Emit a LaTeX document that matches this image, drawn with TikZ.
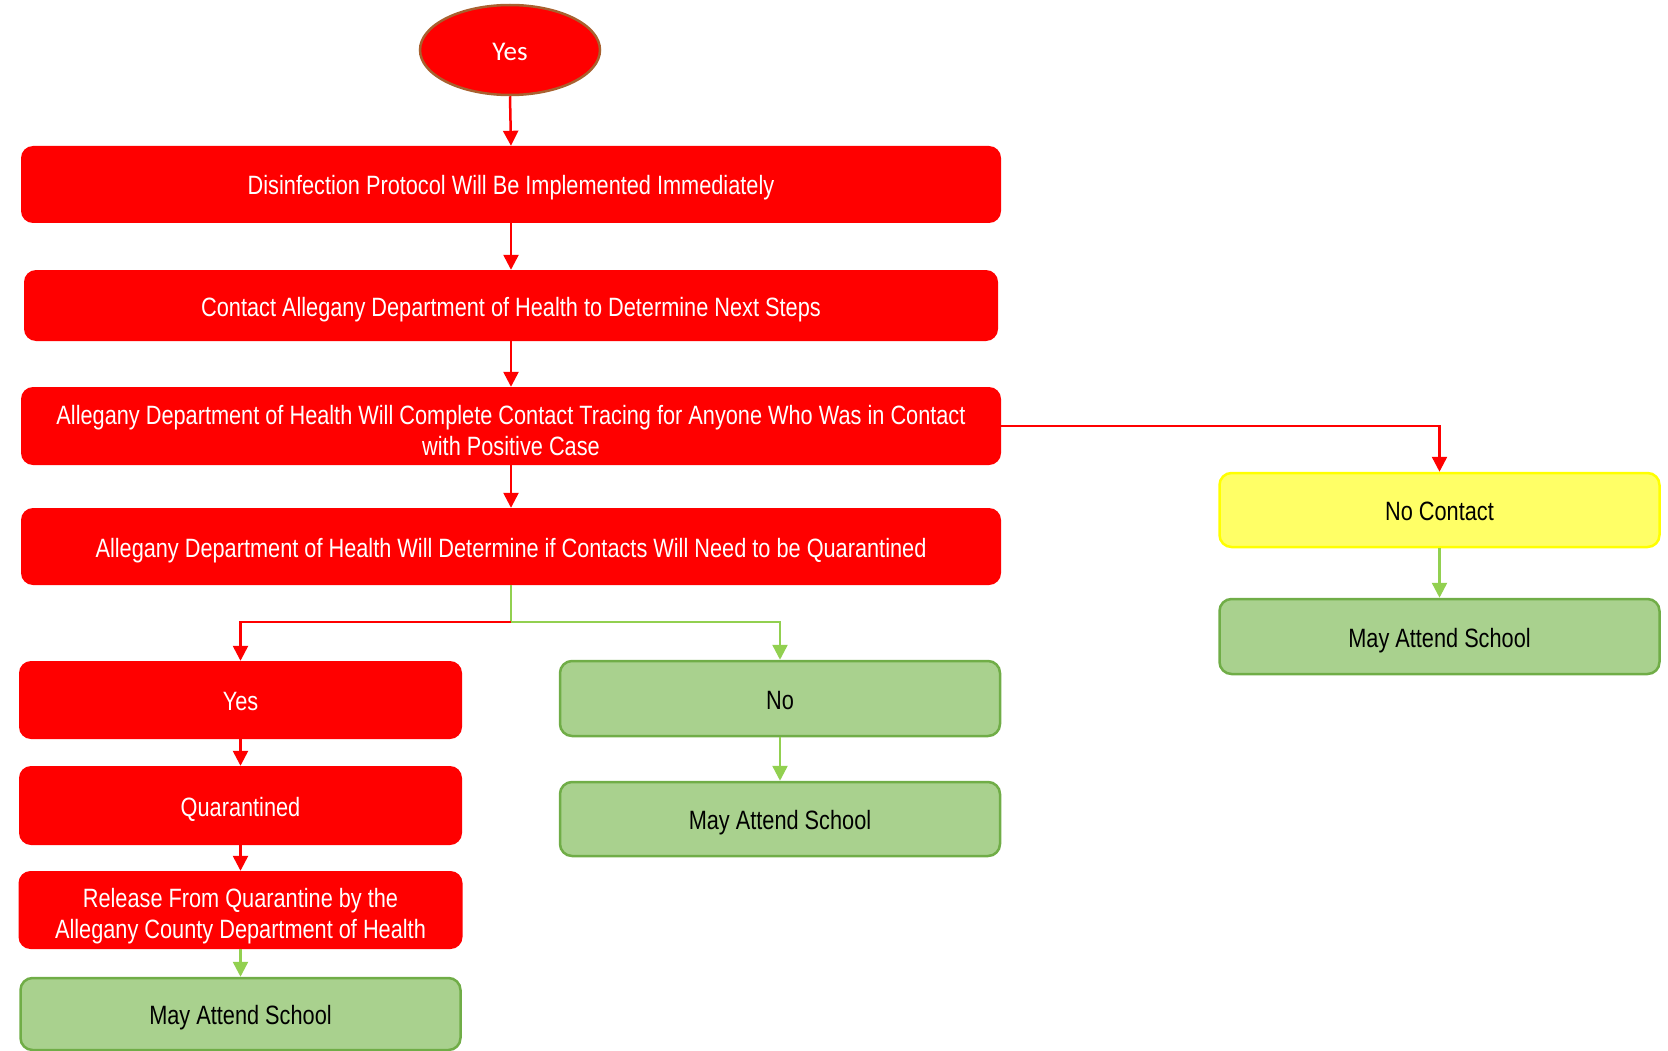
\documentclass[tikz,border=0pt]{standalone}
\usepackage{fontspec}
\setmainfont[FakeStretch=0.82]{Liberation Sans}
\newfontfamily\calib{Carlito}
\usetikzlibrary{arrows.meta,shapes.geometric,positioning}
\definecolor{rd}{HTML}{FF0000}
\definecolor{gfill}{HTML}{A9D18E}
\definecolor{gborder}{HTML}{70AD47}
\definecolor{garrow}{HTML}{92D050}
\definecolor{yfill}{HTML}{FFFF66}
\definecolor{yborder}{HTML}{FFFF00}
\definecolor{brown}{HTML}{A8612F}
\newcommand\mystrut{\rule[-0.2em]{0pt}{1.2em}}
\tikzset{
  boxbase/.style={rectangle, rounded corners=12pt, align=center,
    font=\fontsize{26.5}{31}\selectfont, inner sep=0pt, execute at begin node=\mystrut},
  redbox/.style={boxbase, fill=rd, text=white},
  greenbox/.style={boxbase, fill=gfill, draw=gborder, line width=2.5pt, text=black},
  yellowbox/.style={boxbase, fill=yfill, draw=yborder, line width=2.5pt, text=black},
  redarrow/.style={draw=rd, line width=2.5pt, -{Triangle[width=15pt,length=15pt]}},
  greenarrow/.style={draw=garrow, line width=2.5pt, -{Triangle[width=15pt,length=15pt]}},
  greenline/.style={draw=garrow, line width=2.5pt},
}
\begin{document}
\begin{tikzpicture}[x=1pt,y=-1pt]
\useasboundingbox (0,0) rectangle (1668,1051);
\node[ellipse, fill=rd, draw=brown, line width=2.5pt, minimum width=180pt, minimum height=90pt,
  text=white, font=\calib\fontsize{27}{30}\selectfont, inner sep=0pt] (top) at (510,50) {\rule[-0.1em]{0pt}{1.0em}Yes};
\node[redbox, minimum width=980pt, minimum height=77pt] (b1) at (511,184.5) {Disinfection Protocol Will Be Implemented Immediately};
\node[redbox, minimum width=974pt, minimum height=71pt] (b2) at (511,305.5) {Contact Allegany Department of Health to Determine Next Steps};
\node[redbox, minimum width=980pt, minimum height=78pt] (b3) at (511,426) {\rule{0pt}{1.25em}Allegany Department of Health Will Complete Contact Tracing for Anyone Who Was in Contact\\with Positive Case\rule[-0.125em]{0pt}{0pt}};
\node[redbox, minimum width=980pt, minimum height=77pt] (b4) at (511,546.5) {Allegany Department of Health Will Determine if Contacts Will Need to be Quarantined};
\node[redbox, minimum width=443pt, minimum height=78pt] (yes) at (240.5,700) {Yes};
\node[redbox, minimum width=443pt, minimum height=79pt] (quar) at (240.5,805.5) {Quarantined};
\node[redbox, minimum width=444pt, minimum height=78pt] (rel) at (240.5,910) {\rule{0pt}{1.25em}Release From Quarantine by the\\Allegany County Department of Health\rule[-0.28em]{0pt}{0pt}};
\node[greenbox, minimum width=440pt, minimum height=72pt] (mas1) at (240.5,1014) {May Attend School};
\node[greenbox, minimum width=440pt, minimum height=75pt] (no) at (780,698.5) {No};
\node[greenbox, minimum width=440pt, minimum height=74pt] (mas2) at (780,819) {May Attend School};
\node[yellowbox, minimum width=440pt, minimum height=74pt] (nc) at (1439.5,510) {No Contact};
\node[greenbox, minimum width=440pt, minimum height=75pt] (mas3) at (1439.5,636.5) {May Attend School};
\coordinate (j) at (511,622);
\draw[redarrow] (top.south) -- (b1.north);
\draw[redarrow] (b1.south) -- (b2.north);
\draw[redarrow] (b2.south) -- (b3.north);
\draw[redarrow] (b3.south) -- (b4.north);
\draw[redarrow] (b3.east) -| (nc.north);
\draw[greenarrow] (nc.south) -- (mas3.north);
\draw[greenline] (b4.south) -- (j);
\draw[redarrow] (j) -| (yes.north);
\draw[greenarrow] (j) -| (no.north);
\draw[redarrow] (yes.south) -- (quar.north);
\draw[redarrow] (quar.south) -- (rel.north);
\draw[greenarrow] (rel.south) -- (mas1.north);
\draw[greenarrow] (no.south) -- (mas2.north);
\end{tikzpicture}
\end{document}
